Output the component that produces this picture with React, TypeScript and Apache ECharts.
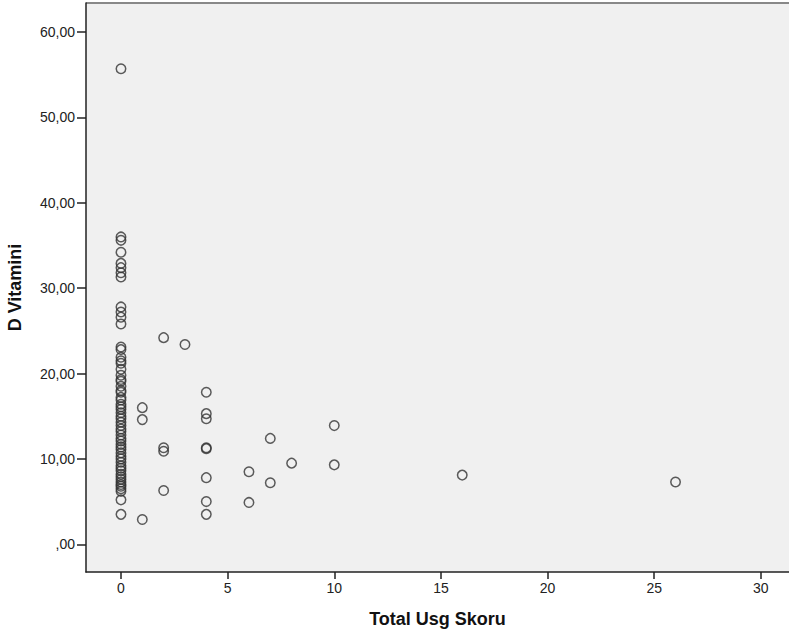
import React, { useEffect, useRef } from "react";
import * as echarts from "echarts";

const xZero: number[] = [
  55.7, 36.0, 35.6, 34.2, 32.9, 32.4, 31.8, 31.3, 27.8, 27.2, 26.6, 25.8,
  23.1, 22.8, 21.9, 21.5, 21.2, 20.5, 19.8, 19.3, 19.1, 18.5, 18.0, 17.8,
  17.2, 16.9, 16.4, 16.1, 15.8, 15.4, 15.0, 14.7, 14.3, 13.9, 13.5, 13.2,
  12.8, 12.4, 12.1, 11.7, 11.4, 11.1, 10.7, 10.3, 10.0, 9.6, 9.2, 8.9,
  8.6, 8.2, 7.9, 7.6, 7.3, 7.0, 6.8, 6.5, 6.2, 5.2, 3.5,
];

const otherX: number[] = [1, 1, 1, 2, 2, 2, 2, 3, 4, 4, 4, 4, 4, 4, 4, 4, 6, 6, 7, 7, 8, 10, 10, 16, 26];
const otherY: number[] = [16.0, 14.6, 2.9, 24.2, 11.3, 10.9, 6.3, 23.4, 17.8, 15.3, 14.7, 11.3, 11.2, 7.8, 5.0, 3.5, 8.5, 4.9, 12.4, 7.2, 9.5, 13.9, 9.3, 8.1, 7.3];

const yTicks: number[] = [0, 10, 20, 30, 40, 50, 60];
const xTicks: number[] = [0, 5, 10, 15, 20, 25, 30];

const xTitle = "Total Usg Skoru";
const yTitle = "D Vitamini";

export default function App() {
  const ref = useRef<HTMLDivElement>(null);
  useEffect(() => {
    document.body.style.margin = "0";
    if (!ref.current) return;
    const chart = echarts.init(ref.current, null, { renderer: "svg" });
    const data: number[][] = [
      ...xZero.map((y) => [0, y]),
      ...otherX.map((x, i) => [x, otherY[i]]),
    ];
    const font = "Arial, 'Liberation Sans', sans-serif";
    chart.setOption({
      animation: false,
      backgroundColor: "#ffffff",
      grid: {
        left: 86,
        right: 0,
        top: 3,
        bottom: 65,
        show: true,
        backgroundColor: "#f0f0f0",
        borderWidth: 0,
        containLabel: false,
        outerBoundsMode: "none",
      },
      xAxis: {
        type: "value",
        min: -1.64,
        max: 31.32,
        name: xTitle,
        nameLocation: "middle",
        nameGap: 38,
        nameTextStyle: { fontFamily: font, fontSize: 18, fontWeight: "bold", color: "#111" },
        axisLine: { show: true, onZero: false, lineStyle: { color: "#222", width: 1.5 } },
        axisTick: { show: true, customValues: xTicks, length: 7, lineStyle: { color: "#222", width: 1.5 } },
        axisLabel: { customValues: xTicks, fontFamily: font, fontSize: 14, color: "#222", margin: 9 },
        splitLine: { show: false },
      },
      yAxis: {
        type: "value",
        min: -3.25,
        max: 63.4,
        name: yTitle,
        nameLocation: "middle",
        nameGap: 62,
        nameRotate: 90,
        nameTextStyle: { fontFamily: font, fontSize: 18, fontWeight: "bold", color: "#111" },
        axisLine: { show: true, onZero: false, lineStyle: { color: "#222", width: 1.5 } },
        axisTick: { show: true, customValues: yTicks, length: 9, lineStyle: { color: "#222", width: 1.5 } },
        axisLabel: {
          customValues: yTicks,
          fontFamily: font,
          fontSize: 14,
          color: "#222",
          margin: 11,
          formatter: (v: number) => (v === 0 ? ",00" : v.toFixed(2).replace(".", ",")),
        },
        splitLine: { show: false },
      },
      graphic: [
        {
          type: "line",
          shape: { x1: 86, y1: 3, x2: 789, y2: 3 },
          style: { stroke: "#888", lineWidth: 2 },
        },
      ],
      series: [
        {
          type: "scatter",
          data,
          symbol: "circle",
          symbolSize: 9.5,
          itemStyle: { color: "rgba(0,0,0,0)", borderColor: "#333", borderWidth: 1.5 },
        },
      ],
    });
    return () => chart.dispose();
  }, []);
  return <div ref={ref} style={{ width: 789, height: 637 }} />;
}
